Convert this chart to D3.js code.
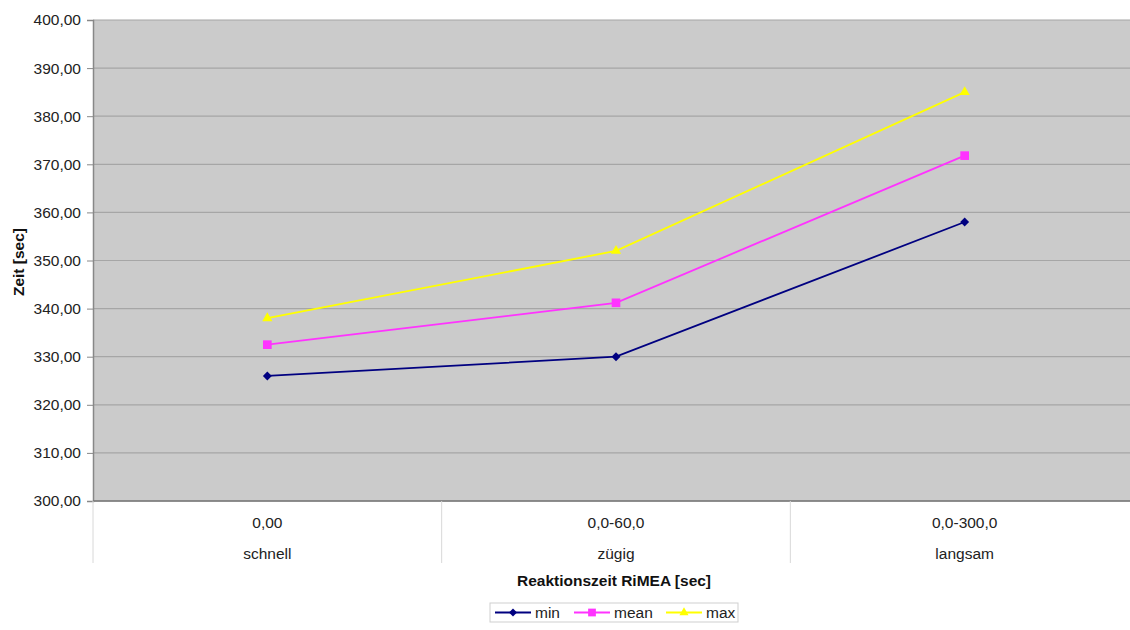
<!DOCTYPE html>
<meta charset="utf-8">
<style>
body { margin: 0; background: #fff; }
text { font-family: "Liberation Sans", Arial, sans-serif; fill: #222; }
.tick text { font-size: 15.5px; fill: #222; }
.title { font-size: 15.5px; font-weight: bold; fill: #111; }
</style>
<svg width="1130" height="630"></svg>
<script src="https://cdnjs.cloudflare.com/ajax/libs/d3/7.8.5/d3.min.js"></script>
<script>

var categories = ["0,00", "0,0-60,0", "0,0-300,0"],
    speeds = ["schnell", "zügig", "langsam"],
    minValues = [326.0, 330.0, 358.0],
    meanValues = [332.5, 341.2, 371.8],
    maxValues = [338.0, 352.0, 385.0],
    yTicks = [300, 310, 320, 330, 340, 350, 360, 370, 380, 390, 400];

var series = [
  {name: "min", values: minValues, color: "#000080", symbol: d3.symbolSquare, rotate: 45, size: 40},
  {name: "mean", values: meanValues, color: "#ff33ff", symbol: d3.symbolSquare, rotate: 0, size: 75},
  {name: "max", values: maxValues, color: "#ffff00", symbol: d3.symbolTriangle, rotate: 0, size: 45}
];

var svg = d3.select("svg"),
    plotLeft = 93, plotTop = 20, plotRight = 1139, plotBottom = 501;

var x = d3.scaleBand().domain(categories).range([plotLeft, plotRight]),
    y = d3.scaleLinear().domain([300, 400]).range([plotBottom, plotTop]);

var fmt = function(v) { return d3.format(".2f")(v).replace(".", ","); };
var cx = function(i) { return x(categories[i]) + x.bandwidth() / 2; };

// plot area
svg.append("rect")
    .attr("x", plotLeft).attr("y", plotTop)
    .attr("width", plotRight - plotLeft).attr("height", plotBottom - plotTop)
    .attr("fill", "#cbcbcb");

// grid
svg.append("g").selectAll("line")
  .data(yTicks)
  .enter().append("line")
    .attr("x1", plotLeft).attr("x2", plotRight)
    .attr("y1", function(d) { return y(d); }).attr("y2", function(d) { return y(d); })
    .attr("stroke", "#a6a6a6").attr("stroke-width", 1.2);

// y axis
var yAxis = svg.append("g")
    .attr("transform", "translate(" + plotLeft + ",0)")
    .call(d3.axisLeft(y).tickValues(yTicks).tickFormat(fmt).tickSize(6).tickPadding(6));
yAxis.selectAll("line, path").attr("stroke", "#888");
yAxis.select(".domain").attr("stroke-width", 1.5);

// x axis baseline
svg.append("line")
    .attr("x1", plotLeft).attr("x2", plotRight)
    .attr("y1", plotBottom).attr("y2", plotBottom)
    .attr("stroke", "#777").attr("stroke-width", 1.5);

// category separators
svg.append("g").selectAll("line")
  .data(categories)
  .enter().append("line")
    .attr("x1", function(d) { return x(d); }).attr("x2", function(d) { return x(d); })
    .attr("y1", plotBottom).attr("y2", 563)
    .attr("stroke", "#d8d8d8");

var labels = svg.append("g").selectAll("g")
  .data(categories)
  .enter().append("g")
    .attr("transform", function(d, i) { return "translate(" + cx(i) + ",0)"; });
labels.append("text")
    .attr("y", 528).attr("text-anchor", "middle").style("font-size", "15.5px")
    .text(function(d) { return d; });
labels.append("text")
    .attr("y", 559).attr("text-anchor", "middle").style("font-size", "15.5px")
    .text(function(d, i) { return speeds[i]; });

// titles
svg.append("text").attr("class", "title")
    .attr("x", 614).attr("y", 586).attr("text-anchor", "middle")
    .text("Reaktionszeit RiMEA [sec]");
svg.append("text").attr("class", "title")
    .attr("transform", "translate(24,262) rotate(-90)").attr("text-anchor", "middle")
    .text("Zeit [sec]");

// lines
var line = d3.line()
    .x(function(d, i) { return cx(i); })
    .y(function(d) { return y(d); });

series.forEach(function(s) {
  svg.append("path")
      .datum(s.values)
      .attr("d", line)
      .attr("fill", "none")
      .attr("stroke", s.color)
      .attr("stroke-width", 1.8);
  svg.append("g").selectAll("path")
    .data(s.values)
    .enter().append("path")
      .attr("transform", function(d, i) { return "translate(" + cx(i) + "," + y(d) + ") rotate(" + s.rotate + ")"; })
      .attr("d", d3.symbol().type(s.symbol).size(s.size))
      .attr("fill", s.color);
});

// legend
var legend = svg.append("g");
legend.append("rect")
    .attr("x", 490).attr("y", 603).attr("width", 248).attr("height", 19)
    .attr("fill", "#fff").attr("stroke", "#cfcfcf");
var lx = [495, 574, 666];
series.forEach(function(s, i) {
  var g = legend.append("g").attr("transform", "translate(" + lx[i] + ",612.5)");
  g.append("line").attr("x1", 0).attr("x2", 36).attr("stroke", s.color).attr("stroke-width", 1.8);
  g.append("path").attr("transform", "translate(18,0) rotate(" + s.rotate + ")")
      .attr("d", d3.symbol().type(s.symbol).size(s.size * 0.8)).attr("fill", s.color);
  g.append("text").attr("x", 40).attr("dy", "0.35em").style("font-size", "15.5px").text(s.name);
});

</script>
